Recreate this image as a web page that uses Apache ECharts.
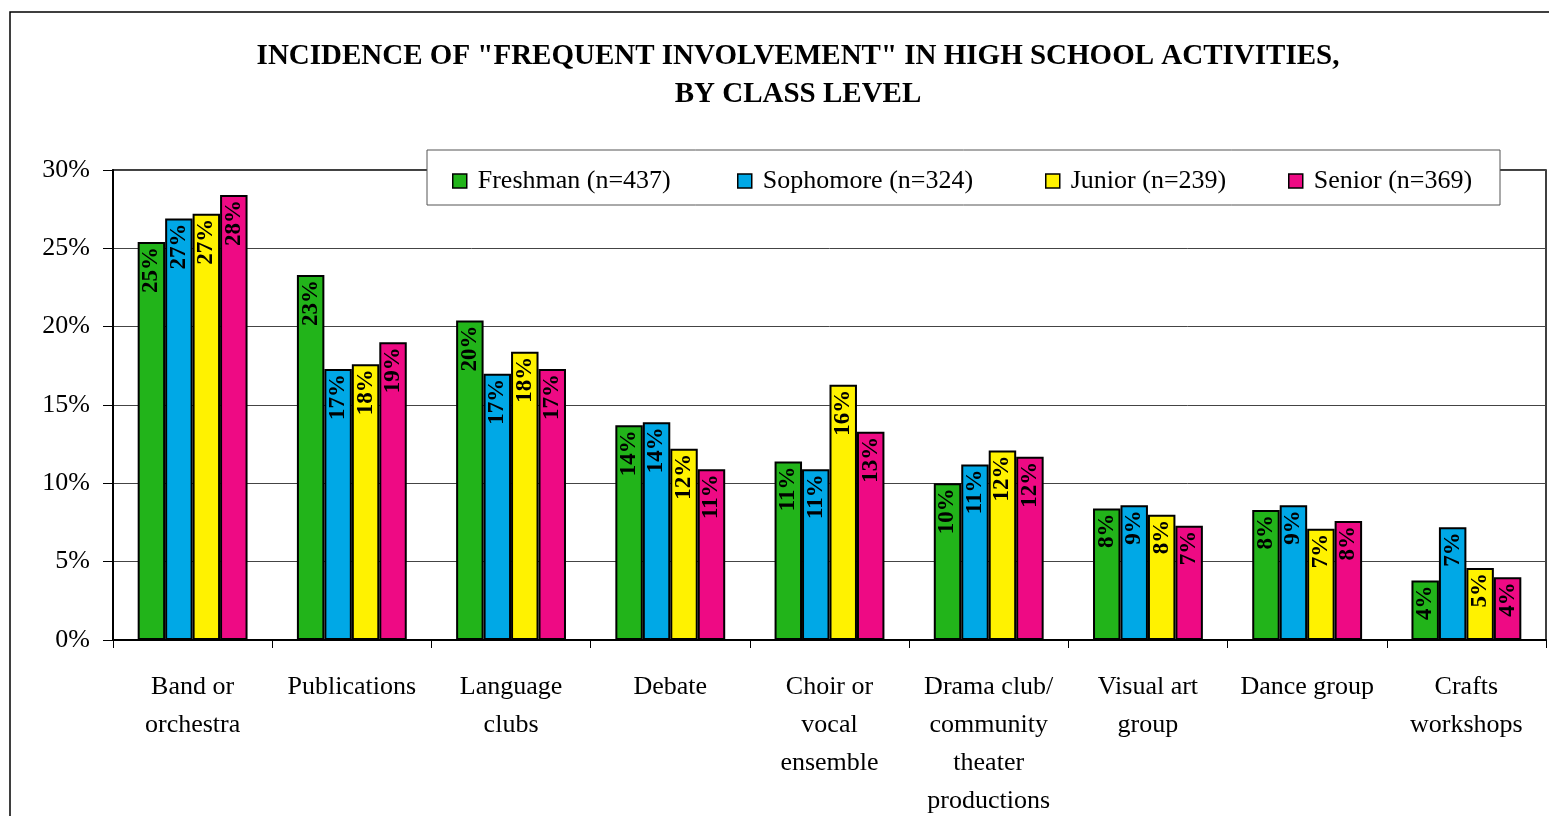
<!DOCTYPE html>
<html>
<head>
<meta charset="utf-8">
<script src="https://cdn.jsdelivr.net/npm/echarts@6/dist/echarts.min.js"></script>
<style>
  html, body { margin: 0; padding: 0; background: #fff; }
  #chart { width: 1549px; height: 816px; }
</style>
</head>
<body>
<div id="chart"></div>
<script>
// Activity categories along the x axis
const categories = [
  'Band or\norchestra',
  'Publications',
  'Language\nclubs',
  'Debate',
  'Choir or\nvocal\nensemble',
  'Drama club/\ncommunity\ntheater\nproductions',
  'Visual art\ngroup',
  'Dance group',
  'Crafts\nworkshops'
];

// Share of students reporting frequent involvement (%), by class level
const freshman  = [25.4, 23.3, 20.4, 13.7, 11.4, 10.0, 8.4, 8.3, 3.8];
const sophomore = [26.9, 17.3, 17.0, 13.9, 10.9, 11.2, 8.6, 8.6, 7.2];
const junior    = [27.2, 17.6, 18.4, 12.2, 16.3, 12.1, 8.0, 7.1, 4.6];
const senior    = [28.4, 19.0, 17.3, 10.9, 13.3, 11.7, 7.3, 7.6, 4.0];

const seriesNames = ['Freshman (n=437)', 'Sophomore (n=324)', 'Junior (n=239)', 'Senior (n=369)'];
const seriesColors = ['#22B41A', '#00A8E6', '#FFF200', '#EE0A84'];

// Y axis range and step (percent)
const yMin = 0, yMax = 30, yStep = 5;

const serif = '"Liberation Serif", "DejaVu Serif", serif';

const chart = echarts.init(document.getElementById('chart'), null, { renderer: 'canvas' });

const makeSeries = (name, data, color) => ({
  name,
  type: 'bar',
  data,
  barGap: '0%',
  barCategoryGap: '31%',
  itemStyle: { color, borderColor: '#000', borderWidth: 2 },
  label: {
    show: true,
    position: 'insideTop',
    rotate: 90,
    align: 'right',
    verticalAlign: 'middle',
    distance: 5,
    fontFamily: serif,
    fontSize: 23,
    fontWeight: 'bold',
    color: '#000',
    formatter: p => Math.round(p.value) + '%'
  }
});

// One legend entry per class level, laid out across a shared framed box
const legendLefts = [452, 737, 1045, 1288];
const legends = seriesNames.map((name, i) => ({
  data: [name],
  left: legendLefts[i],
  top: 168,
  padding: 0,
  itemWidth: 14,
  itemHeight: 14,
  icon: 'rect',
  z: 5,
  itemStyle: { borderColor: '#000', borderWidth: 1.5 },
  textStyle: { fontFamily: serif, fontSize: 26, color: '#000', padding: [0, 0, 0, 6] }
}));

chart.setOption({
  animation: false,
  backgroundColor: '#fff',
  title: {
    text: 'INCIDENCE OF "FREQUENT INVOLVEMENT" IN HIGH SCHOOL ACTIVITIES,\nBY CLASS LEVEL',
    left: 793,
    top: 33,
    textAlign: 'center',
    textStyle: {
      fontFamily: serif,
      fontSize: 29,
      fontWeight: 'bold',
      color: '#000',
      lineHeight: 38
    }
  },
  legend: legends,
  grid: {
    left: 113,
    right: 3,
    top: 170,
    bottom: 176,
    outerBoundsMode: 'none',
    show: true,
    borderColor: '#000',
    borderWidth: 1.5,
    backgroundColor: 'transparent'
  },
  xAxis: {
    type: 'category',
    data: categories,
    boundaryGap: true,
    axisLine: { lineStyle: { color: '#000', width: 2 } },
    axisTick: { show: true, length: 8, lineStyle: { color: '#000', width: 1 } },
    axisLabel: {
      interval: 0,
      margin: 28,
      fontFamily: serif,
      fontSize: 26,
      lineHeight: 38,
      color: '#000',
      verticalAlign: 'top'
    }
  },
  yAxis: {
    type: 'value',
    min: yMin,
    max: yMax,
    interval: yStep,
    axisLine: { show: true, lineStyle: { color: '#000', width: 2 } },
    axisTick: { show: true, length: 10, lineStyle: { color: '#000', width: 1 } },
    axisLabel: {
      formatter: '{value}%',
      margin: 23,
      fontFamily: serif,
      fontSize: 26,
      color: '#000',
      padding: [9, 0, 0, 0]
    },
    splitLine: { show: true, lineStyle: { color: '#444', width: 1 } }
  },
  graphic: [
    {
      type: 'rect',
      shape: { x: 10, y: 12, width: 1600, height: 900 },
      style: { fill: 'none', stroke: '#000', lineWidth: 1.5 },
      silent: true,
      z: -1
    },
    {
      type: 'rect',
      shape: { x: 427, y: 150, width: 1073, height: 55 },
      style: { fill: '#fff', stroke: '#555', lineWidth: 1 },
      silent: true,
      z: 3
    }
  ],
  series: [
    makeSeries(seriesNames[0], freshman, seriesColors[0]),
    makeSeries(seriesNames[1], sophomore, seriesColors[1]),
    makeSeries(seriesNames[2], junior, seriesColors[2]),
    makeSeries(seriesNames[3], senior, seriesColors[3])
  ]
});
</script>
</body>
</html>
